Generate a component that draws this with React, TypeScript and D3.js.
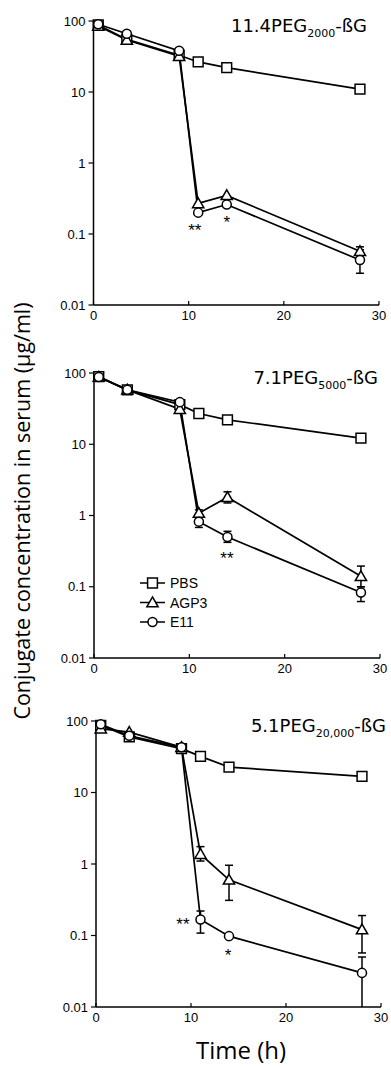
import React from 'react';
import * as d3 from 'd3';

// sampling times (h)
const times = [0.5, 3.5, 9, 11, 14, 28];
const seriesNames = ['PBS', 'AGP3', 'E11'];
const yTicks = [0.01, 0.1, 1, 10, 100];
const yTickLabels = ['0.01', '0.1', '1', '10', '100'];
const xTicks = [0, 10, 20, 30];

// 11.4PEG2000-ßG
const pbs1 = [88, 55, 33, 26.5, 22, 11];
const agp1 = [85, 54, 32, 0.27, 0.35, 0.057];
const e11a = [90, 66, 38, 0.2, 0.26, 0.043];
const agp1Lo = [null, null, null, null, null, 0.05];
const agp1Hi = [null, null, null, null, null, 0.066];
const e11aLo = [null, null, null, null, null, 0.028];
const e11aHi = [null, null, null, null, null, 0.06];

// 7.1PEG5000-ßG
const pbs2 = [89, 58, 36, 27, 22, 12.2];
const agp2 = [88, 58, 31, 1.08, 1.8, 0.14];
const e11b = [88, 58, 39, 0.82, 0.5, 0.083];
const agp2Lo = [null, null, null, 0.95, 1.5, 0.1];
const agp2Hi = [null, null, null, 1.2, 2.15, 0.195];
const e11bLo = [null, null, null, 0.68, 0.42, 0.062];
const e11bHi = [null, null, null, 0.98, 0.6, 0.1];

// 5.1PEG20,000-ßG
const pbs3 = [87, 60, 41, 32, 22.7, 16.8];
const agp3 = [78, 70, 43, 1.37, 0.6, 0.121];
const e11c = [90, 62, 43, 0.167, 0.098, 0.03];
const agp3Lo = [null, null, null, 1.1, 0.31, 0.057];
const agp3Hi = [null, null, null, 1.75, 0.96, 0.19];
const e11cLo = [null, null, null, 0.108, null, 0.01];
const e11cHi = [null, null, null, 0.22, null, 0.05];

type Err = (number | null)[];
interface Series { values: number[]; lo?: Err; hi?: Err; }
interface Note { label: string; t: number; v: number; }
interface Panel {
  main: string; sub: string; titleRight: number;
  top: number; bottom: number; left: number; right: number;
  series: Series[]; notes: Note[]; legend?: boolean;
}

const panels: Panel[] = [
  {
    main: '11.4PEG', sub: '2000', titleRight: 367,
    top: 21, bottom: 305, left: 93.5, right: 379,
    series: [{ values: pbs1 }, { values: agp1, lo: agp1Lo, hi: agp1Hi }, { values: e11a, lo: e11aLo, hi: e11aHi }],
    notes: [{ label: '**', t: 10.65, v: 0.126 }, { label: '*', t: 14, v: 0.163 }],
  },
  {
    main: '7.1PEG', sub: '5000', titleRight: 378,
    top: 373, bottom: 658, left: 94, right: 380,
    series: [{ values: pbs2 }, { values: agp2, lo: agp2Lo, hi: agp2Hi }, { values: e11b, lo: e11bLo, hi: e11bHi }],
    notes: [{ label: '**', t: 13.95, v: 0.28 }],
    legend: true,
  },
  {
    main: '5.1PEG', sub: '20,000', titleRight: 386,
    top: 721, bottom: 1007, left: 96, right: 381,
    series: [{ values: pbs3 }, { values: agp3, lo: agp3Lo, hi: agp3Hi }, { values: e11c, lo: e11cLo, hi: e11cHi }],
    notes: [{ label: '**', t: 9.15, v: 0.16 }, { label: '*', t: 13.9, v: 0.059 }],
  },
];

const symbols = [
  d3.symbol(d3.symbolSquare, 96)(),
  d3.symbol(d3.symbolTriangle, 55)(),
  d3.symbol(d3.symbolCircle, 64)(),
];

const tickFont = '"Liberation Sans", Arial, sans-serif';
const titleFont = '"DejaVu Sans", Verdana, sans-serif';
const labelFont = '"Open Sans", "Noto Sans", sans-serif';

const PanelChart: React.FC<{ p: Panel }> = ({ p }) => {
  const x = d3.scaleLinear().domain([0, 30]).range([p.left, p.right]);
  const y = d3.scaleLog().domain([0.01, 100]).range([p.bottom, p.top]);
  const line = d3.line<number>().x((_, i) => x(times[i])).y(v => y(v));

  return (
    <g>
      {/* axes */}
      <line x1={p.left} x2={p.left} y1={p.top} y2={p.bottom} stroke="#000" strokeWidth={1.5} />
      <line x1={p.left} x2={p.right} y1={p.bottom} y2={p.bottom} stroke="#000" strokeWidth={1.5} />
      {yTicks.map((t, i) => (
        <g key={t}>
          <line x1={p.left - 5} x2={p.left} y1={y(t)} y2={y(t)} stroke="#000" strokeWidth={1.2} />
          <text x={p.left - 8} y={y(t) + 4.5} textAnchor="end" fontSize={13} fontFamily={tickFont}>{yTickLabels[i]}</text>
        </g>
      ))}
      {xTicks.map(t => (
        <g key={t}>
          <line x1={x(t)} x2={x(t)} y1={p.bottom} y2={p.bottom - 4} stroke="#000" strokeWidth={1.2} />
          <text x={x(t)} y={p.bottom + 15} textAnchor="middle" fontSize={13} fontFamily={tickFont}>{t}</text>
        </g>
      ))}

      {/* lines */}
      {p.series.map((s, si) => (
        <path key={si} d={line(s.values) || ''} fill="none" stroke="#000" strokeWidth={1.7} />
      ))}

      {/* error bars */}
      {p.series.map((s, si) => s.values.map((v, i) => {
        const lo = s.lo ? s.lo[i] : null;
        const hi = s.hi ? s.hi[i] : null;
        if (lo == null && hi == null) return null;
        const cx = x(times[i]);
        const y1 = y(hi ?? v);
        const y2 = y(lo ?? v);
        return (
          <g key={`${si}-${i}`} stroke="#000" strokeWidth={1.5}>
            <line x1={cx} x2={cx} y1={y1} y2={y2} />
            {hi != null && <line x1={cx - 4} x2={cx + 4} y1={y1} y2={y1} />}
            {lo != null && lo > 0.01 && <line x1={cx - 4} x2={cx + 4} y1={y2} y2={y2} />}
          </g>
        );
      }))}

      {/* markers */}
      {p.series.map((s, si) => s.values.map((v, i) => (
        <path key={`m${si}-${i}`} d={symbols[si] || ''}
          transform={`translate(${x(times[i])},${y(v) + (si === 1 ? 1 : 0)})`}
          fill="#fff" stroke="#000" strokeWidth={1.5} />
      )))}

      {/* significance marks */}
      {p.notes.map((n, i) => (
        <text key={i} x={x(n.t)} y={y(n.v) + 9} textAnchor="middle" fontSize={17} fontFamily={tickFont}>{n.label}</text>
      ))}

      {/* panel title */}
      <text x={p.titleRight} y={p.top + 11} textAnchor="end" fontSize={18} fontFamily={titleFont}>
        {p.main}
        <tspan fontSize={11} dy={5}>{p.sub}</tspan>
        <tspan dy={-5}>-ßG</tspan>
      </text>

      {p.legend && seriesNames.map((name, i) => {
        const ly = 583 + i * 19.5;
        return (
          <g key={name}>
            <line x1={140} x2={165} y1={ly} y2={ly} stroke="#000" strokeWidth={1.5} />
            <path d={symbols[i] || ''} transform={`translate(152.5,${ly + (i === 1 ? 1 : 0)})`} fill="#fff" stroke="#000" strokeWidth={1.5} />
            <text x={170} y={ly + 5} fontSize={14} fontFamily={tickFont}>{name}</text>
          </g>
        );
      })}
    </g>
  );
};

const App: React.FC = () => (
  <div style={{ position: 'absolute', left: 0, top: 0 }}>
    <svg width={391} height={1068} style={{ display: 'block', background: '#fff' }}>
      {panels.map((p, i) => <PanelChart key={i} p={p} />)}
      <text transform="translate(30,511) rotate(-90)" textAnchor="middle" fontSize={21.5} fontFamily={labelFont}>
        Conjugate concentration in serum (µg/ml)
      </text>
      <text x={241} y={1059} textAnchor="middle" fontSize={24} fontFamily={labelFont}>Time (h)</text>
    </svg>
  </div>
);

export default App;
